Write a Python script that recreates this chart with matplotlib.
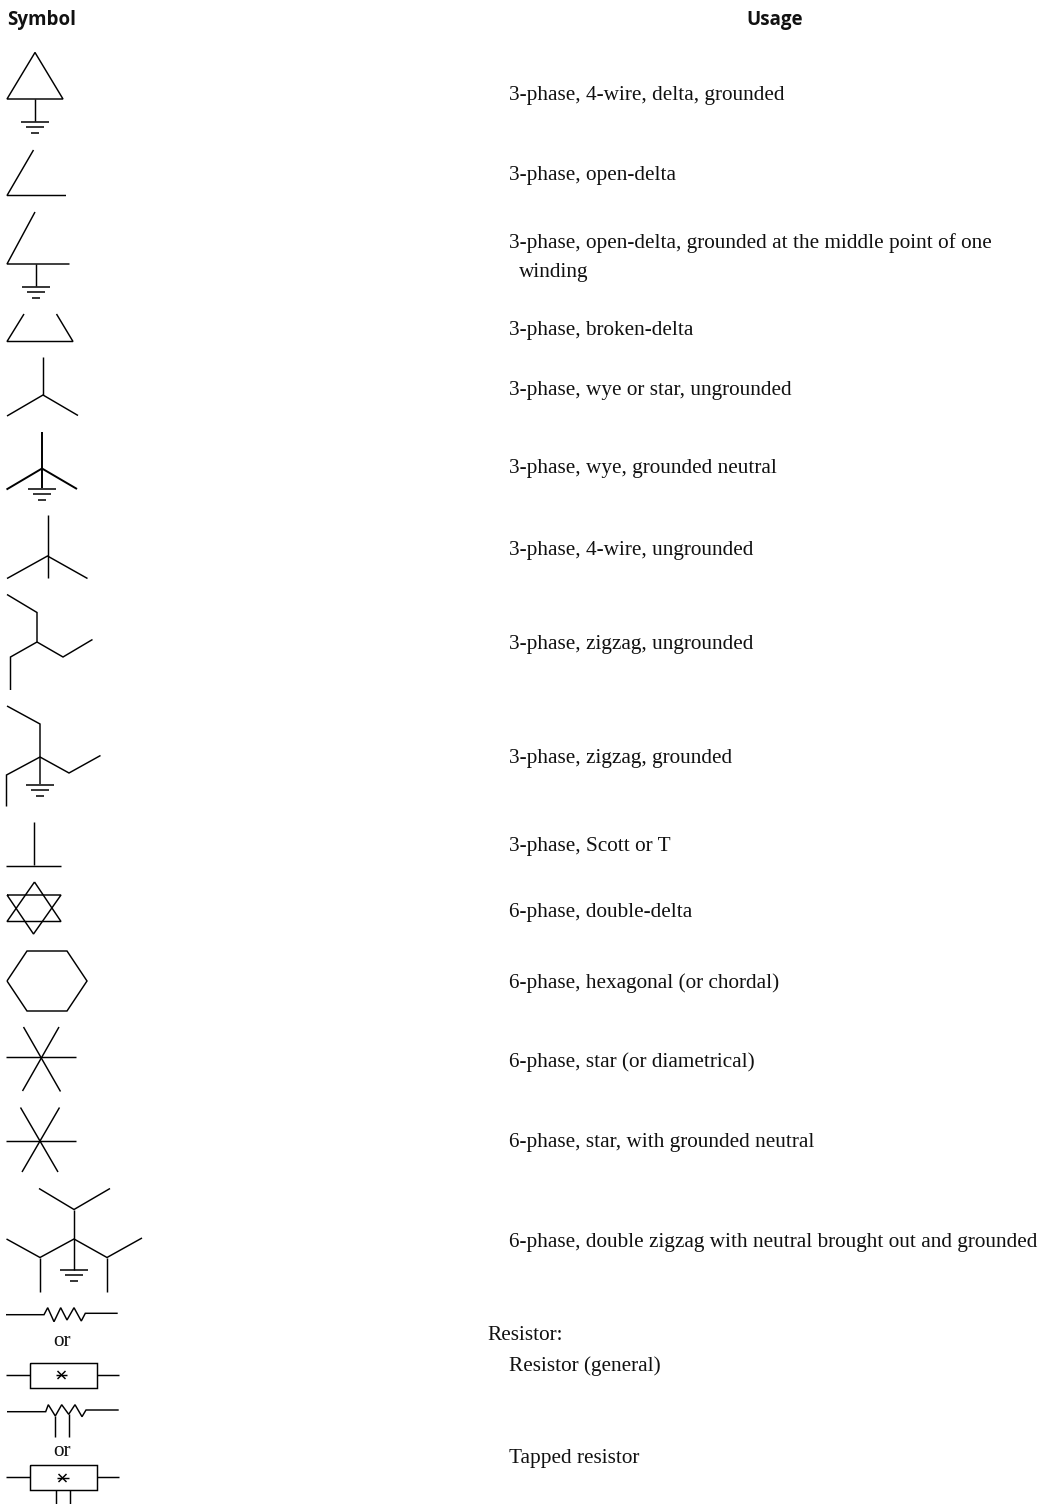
import matplotlib
matplotlib.use("Agg")
import matplotlib.pyplot as plt

# header and usage text, y is the text centre in image pixels
usage_labels = [
    "3-phase, 4-wire, delta, grounded",
    "3-phase, open-delta",
    "3-phase, open-delta, grounded at the middle point of one",
    "winding",
    "3-phase, broken-delta",
    "3-phase, wye or star, ungrounded",
    "3-phase, wye, grounded neutral",
    "3-phase, 4-wire, ungrounded",
    "3-phase, zigzag, ungrounded",
    "3-phase, zigzag, grounded",
    "3-phase, Scott or T",
    "6-phase, double-delta",
    "6-phase, hexagonal (or chordal)",
    "6-phase, star (or diametrical)",
    "6-phase, star, with grounded neutral",
    "6-phase, double zigzag with neutral brought out and grounded",
    "Resistor:",
    "Resistor (general)",
    "Tapped resistor",
]
usage_x = [509, 509, 509, 519, 509, 509, 509, 509, 509, 509, 509, 509, 509, 509, 509, 509, 487, 509, 509]
usage_y = [95.5, 175.5, 243, 273, 331, 390, 469, 550.5, 644.5, 758.5, 846.5, 912, 983.5, 1062, 1142.5, 1242.5, 1336, 1366.5, 1458.5]

or_y = [1342, 1451]

# symbols, each line is a list of (x, y) points in image pixels
delta = [[(35, 52.5), (7, 99), (63, 99), (35, 52.5)], [(35, 99), (35, 121)]]
open_delta = [[(33.5, 150), (7, 195.5), (66, 195.5)]]
open_delta_gnd = [[(35, 212), (7, 264), (69.5, 264)], [(36, 264), (36, 286)]]
broken_delta = [[(24, 314), (7, 341.5), (73, 341.5), (56.5, 314)]]
wye = [[(43, 357), (43, 395)], [(7, 416), (43, 395), (78, 415.5)]]
wye_gnd = [[(42, 431.5), (42, 488)], [(6.5, 489.5), (42, 468.5), (77, 489)]]
wye_4wire = [[(47.5, 515), (47.5, 578)], [(7, 578.5), (47.5, 556), (87.5, 578.5)]]
zigzag = [
    [(7, 594.5), (37, 612.5), (37, 642), (10.5, 657), (10.5, 690)],
    [(37, 642), (63, 657), (92.5, 639.5)],
]
zigzag_gnd = [
    [(7, 706), (40, 724), (40, 784)],
    [(6.5, 806.5), (6.5, 775), (40, 757), (69, 773), (100.5, 755.5)],
]
scott = [[(33.5, 822), (33.5, 865)], [(6, 865.5), (60.5, 865.5)]]
double_delta = [
    [(34.5, 882), (7, 921.5), (61, 921.5), (34.5, 882)],
    [(7, 895), (61, 895), (33.5, 934), (7, 895)],
]
hexagon = [[(7, 981), (27, 951), (67, 951), (87, 981), (67, 1011), (27, 1011), (7, 981)]]
star = [[(6, 1057), (76, 1057)], [(23.5, 1027), (60.5, 1091.5)], [(59, 1027), (22.5, 1091)]]
star_gnd = [[(6, 1141), (76, 1141)], [(20.5, 1107.5), (58, 1172)], [(59.5, 1107.5), (22, 1172)]]
double_zigzag = [
    [(39, 1188.5), (74, 1209.5), (110, 1188.5)],
    [(74, 1209.5), (74, 1269.5)],
    [(6.5, 1239), (40, 1257.5), (74, 1239), (107, 1257.5), (142, 1238)],
    [(40, 1257.5), (40, 1291.5)],
    [(107, 1257.5), (107, 1291.5)],
]
resistor = [[(6, 1314.7), (44, 1314.7), (47.7, 1307.7), (54, 1321.7), (60.7, 1307.7), (67, 1320),
             (74, 1307.7), (81.3, 1321), (85.3, 1313.3), (117.7, 1313.3)]]
resistor_box = [
    [(30, 1362.7), (96.7, 1362.7), (96.7, 1388), (30, 1388), (30, 1362.7)],
    [(6, 1375), (30, 1375)],
    [(96.7, 1375), (119, 1375)],
    [(56, 1375), (67, 1375)],
    [(57.5, 1371), (65.5, 1379)],
    [(65.5, 1371), (57.5, 1379)],
]
tapped = [
    [(7, 1411.7), (45.7, 1411.7), (48.3, 1404.7), (55.3, 1416), (61.7, 1404.7), (68.7, 1414.3),
     (75, 1404.7), (82, 1416.7), (86, 1410), (118.7, 1410)],
    [(55.3, 1416), (55.3, 1436.5)],
    [(68.7, 1414.3), (68.7, 1436.5)],
]
tapped_box = [
    [(30, 1464.7), (96.7, 1464.7), (96.7, 1489.7), (30, 1489.7), (30, 1464.7)],
    [(6, 1477), (30, 1477)],
    [(96.7, 1477), (119, 1477)],
    [(56.5, 1478), (68.5, 1478)],
    [(58.5, 1474), (66.5, 1482)],
    [(66.5, 1474), (58.5, 1482)],
    [(56, 1489.7), (56, 1504)],
    [(70, 1489.7), (70, 1504)],
]

symbols = [delta, open_delta, open_delta_gnd, broken_delta, wye, wye_4wire, zigzag, zigzag_gnd,
           scott, double_delta, hexagon, star, star_gnd, double_zigzag, resistor, resistor_box,
           tapped, tapped_box]

# ground marks: centre x and y of the top bar
ground_x = [35, 36, 42, 39.5, 74]
ground_y = [121.5, 286.5, 488.5, 784.5, 1269.5]
ground_half = [14, 9, 4]
ground_step = [0, 5.5, 11]

fig = plt.figure(figsize=(10.48, 15.04), dpi=100)
ax = fig.add_axes([0, 0, 1, 1])
ax.set_xlim(0, 1048)
ax.set_ylim(1504, 0)
ax.axis("off")

for symbol in symbols:
    for line in symbol:
        xs = [p[0] for p in line]
        ys = [p[1] for p in line]
        ax.plot(xs, ys, color="black", lw=1.05, solid_capstyle="butt", solid_joinstyle="miter")

# this one prints heavier in the source
for line in wye_gnd:
    xs = [p[0] for p in line]
    ys = [p[1] for p in line]
    ax.plot(xs, ys, color="black", lw=1.4, solid_capstyle="butt", solid_joinstyle="miter")

for gx, gy in zip(ground_x, ground_y):
    for half, step in zip(ground_half, ground_step):
        ax.plot([gx - half, gx + half], [gy + step, gy + step], color="black", lw=1.1, solid_capstyle="butt")

# text
ax.text(7, 20, "Symbol", family="Open Sans", weight="bold", fontsize=13.5, va="center", ha="left", color="#111111")
ax.text(775, 20, "Usage", family="Open Sans", weight="bold", fontsize=13.5, va="center", ha="center", color="#111111")

for label, x, y in zip(usage_labels, usage_x, usage_y):
    ax.text(x, y, label, family="Liberation Serif", fontsize=15.35, va="center", ha="left", color="#111111")

for y in or_y:
    ax.text(62, y, "or", family="Liberation Serif", fontsize=15.35, va="center", ha="center", color="#111111")

plt.savefig("out.png", dpi=100)
plt.close()
